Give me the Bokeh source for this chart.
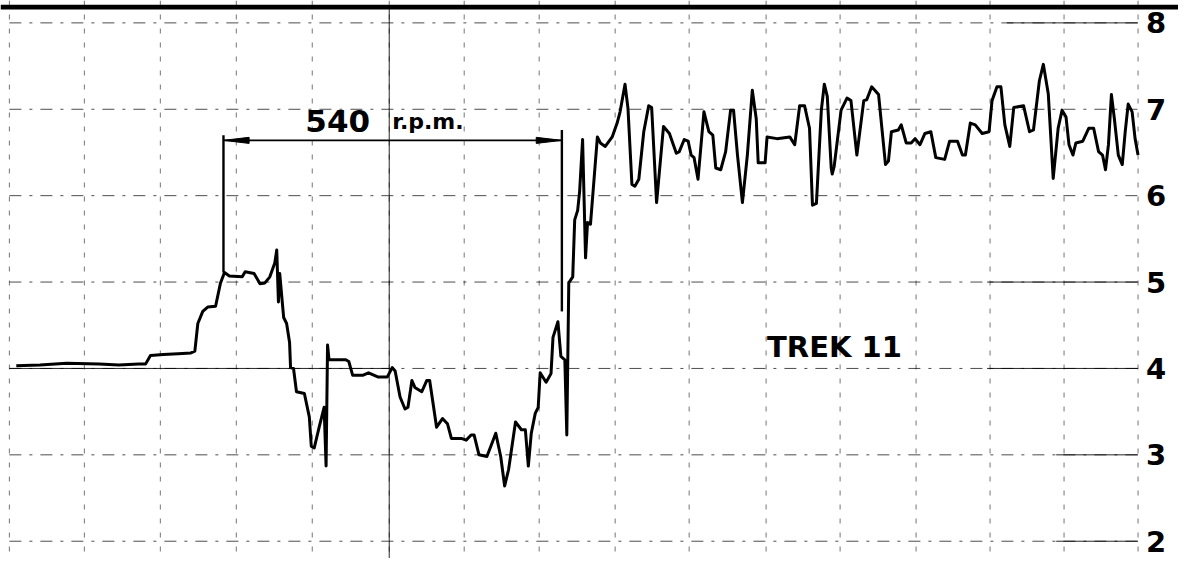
from bokeh.plotting import figure
from bokeh.models import Label, BoxAnnotation, Range1d, Span
from bokeh.core.properties import value
from bokeh.embed import file_html
from bokeh.resources import INLINE

# ---- data (chart position along the paper, speed value) ----
trace_pos = [16, 40, 67, 100, 120, 140, 147, 152, 165, 180, 193, 197, 200, 205, 210, 218,
             223, 227, 232, 245, 248, 257, 263, 268, 273, 278, 280, 281.7, 283, 287, 290,
             293, 294, 297, 300, 308, 313, 315, 318, 323, 328, 330, 331.5, 333, 350, 353,
             357, 367, 373, 383, 392, 397, 400, 405, 410, 413, 417, 420, 427, 432, 435,
             438, 442, 448, 453, 457, 467, 472, 477, 480, 485, 493, 497, 502, 507, 511,
             515, 522, 528, 532, 535, 538, 542, 545, 547, 553, 558, 560, 565, 568, 572,
             574, 576, 580, 582, 585, 587, 590, 593, 595, 598, 605, 608, 613, 620, 625,
             628, 633, 636, 640, 643, 647, 652, 657, 660, 665, 672, 678, 685, 688, 693,
             697, 700, 703, 707, 713, 718, 722, 725, 730, 735, 740, 743, 747, 752, 757,
             762, 766, 768, 775, 777, 787, 800, 805, 810, 815, 820, 823, 827, 832, 835,
             838, 842, 843, 845, 852, 858, 862, 868, 875, 878, 883, 890, 897, 900, 903,
             910, 913, 918, 923, 927, 932, 937, 943, 948, 957, 962, 970, 975, 978, 983,
             988, 995, 1002, 1005, 1010, 1014, 1018, 1023, 1027, 1037, 1043, 1047, 1053,
             1057, 1062, 1067, 1072, 1076, 1080, 1083, 1087, 1090, 1097, 1103, 1108, 1113,
             1117, 1120, 1123, 1126, 1129, 1133, 1137, 1140, 1143, 1147, 1150, 1153]
trace_val = [4.03, 4.04, 4.06, 4.05, 4.04, 4.05, 4.05, 4.15, 4.16, 4.17, 4.18, 4.20, 4.52,
             4.66, 4.71, 4.72, 4.99, 5.11, 5.07, 5.06, 5.12, 5.10, 4.98, 4.99, 5.06, 5.22,
             5.37, 4.77, 5.10, 4.59, 4.52, 4.30, 4.01, 4.00, 3.73, 3.71, 3.44, 3.10, 3.08,
             3.32, 3.55, 2.87, 4.27, 4.10, 4.10, 4.08, 3.92, 3.92, 3.95, 3.90, 3.90, 4.01,
             3.97, 3.67, 3.53, 3.55, 3.86, 3.78, 3.73, 3.86, 3.86, 3.63, 3.32, 3.42, 3.36,
             3.19, 3.19, 3.17, 3.23, 3.23, 3.00, 2.98, 3.10, 3.25, 2.98, 2.64, 2.83, 3.38,
             3.29, 3.29, 2.87, 3.25, 3.48, 3.55, 3.95, 3.84, 3.94, 4.36, 4.54, 4.14, 4.10,
             3.23, 4.99, 5.06, 5.72, 5.83, 6.05, 6.65, 5.28, 5.69, 5.67, 6.68, 6.61, 6.57,
             6.68, 6.84, 6.97, 7.29, 7.01, 6.13, 6.11, 6.19, 6.74, 7.04, 7.02, 5.92, 6.80,
             6.72, 6.49, 6.51, 6.65, 6.63, 6.47, 6.44, 6.19, 6.97, 6.74, 6.70, 6.32, 6.30,
             6.51, 6.99, 6.99, 6.47, 5.92, 6.47, 7.22, 6.89, 6.38, 6.38, 6.68, 6.66, 6.68,
             6.59, 7.04, 7.04, 6.78, 5.89, 5.91, 6.99, 7.29, 7.15, 6.32, 6.25, 6.34, 6.99,
             7.13, 7.10, 6.47, 7.10, 7.11, 7.26, 7.17, 6.36, 6.40, 6.74, 6.76, 6.82, 6.61,
             6.61, 6.66, 6.59, 6.72, 6.74, 6.44, 6.42, 6.63, 6.63, 6.47, 6.47, 6.84, 6.82,
             6.72, 6.74, 7.10, 7.26, 7.26, 6.82, 6.57, 7.02, 7.04, 6.74, 6.76, 7.33, 7.52,
             7.18, 6.20, 6.78, 6.99, 6.91, 6.59, 6.47, 6.61, 6.63, 6.78, 6.78, 6.51, 6.47,
             6.30, 6.59, 7.17, 6.89, 6.47, 6.36, 6.74, 7.06, 6.97, 6.66, 6.47]

# chart-paper grid
grid_pos = [9, 85, 162, 239, 316, 394, 470, 546, 623, 698, 776, 851, 928, 1003, 1078, 1153]
y_ticks = [2, 3, 4, 5, 6, 7, 8]
y_labels = ["2", "3", "4", "5", "6", "7", "8"]
label_pos = 1161

# 540 r.p.m. bracket
bracket_pos = [226, 569]
bracket_top = [6.70, 6.76]
bracket_bottom = [5.11, 4.66]
arrow_level = 6.64

FONT = "DejaVu Sans"
Y0, Y1 = 1.80, 8.259

p = figure(width=1178, height=558, output_backend="svg", toolbar_location=None,
           x_axis_location=None, y_axis_location=None,
           x_range=Range1d(0, 1194), y_range=Range1d(Y0, Y1),
           min_border_left=0, min_border_right=0, min_border_top=0, min_border_bottom=0)
p.outline_line_color = None
p.background_fill_color = "white"
p.border_fill_color = "white"
p.xgrid.visible = False
p.ygrid.visible = False

# printed chart grid
for gx in grid_pos:
    p.add_layout(Span(location=gx, dimension="height", line_color="black", line_alpha=0.55,
                      line_width=1, line_dash="5 9"))
p.segment(x0=[grid_pos[0]] * len(y_ticks), y0=y_ticks,
          x1=[grid_pos[-1]] * len(y_ticks), y1=y_ticks,
          line_color="black", line_alpha=0.7, line_width=1, line_dash="12 8 3 8")

# solid stretches of the printed grid
p.segment(x0=[9, 394, 1000, 1000, 1070, 1070, 1020], y0=[4, Y0, 4, 5, 3, 2, 8],
          x1=[394, 394, 1153, 1153, 1153, 1153, 1153], y1=[4, 8.2, 4, 5, 3, 2, 8],
          line_color="black", line_width=1, line_alpha=0.85)

# scale labels on the right edge of the paper
p.text(x=[label_pos] * len(y_ticks), y=y_ticks, text=y_labels,
       text_font=value(FONT), text_font_style="bold", text_font_size="29px",
       text_color="black", text_align="left", text_baseline="middle")

# top heavy rule
p.add_layout(BoxAnnotation(bottom=8.155, top=8.21,
                           fill_color="black", fill_alpha=1, line_color=None))

# trace
p.line(trace_pos, trace_val, line_color="black", line_width=3, line_join="round")

# bracket
p.segment(x0=bracket_pos, y0=bracket_bottom, x1=bracket_pos, y1=bracket_top,
          line_color="black", line_width=2.4)
p.segment(x0=[bracket_pos[0]], y0=[arrow_level], x1=[bracket_pos[1]], y1=[arrow_level],
          line_color="black", line_width=1.6)
head_len = 26
head_w = 0.035
xl, xr = bracket_pos
p.patches(xs=[[xl, xl + head_len, xl + head_len], [xr, xr - head_len, xr - head_len]],
          ys=[[arrow_level, arrow_level + head_w, arrow_level - head_w],
              [arrow_level, arrow_level + head_w, arrow_level - head_w]],
          fill_color="black", line_color="black", line_width=1)

# texts
p.add_layout(Label(x=309, y=6.86, text="540", text_font=FONT, text_font_size="31px",
                   text_font_style="bold", text_color="black", text_baseline="alphabetic"))
p.add_layout(Label(x=397, y=6.86, text="r.p.m.", text_font=FONT, text_font_size="22px",
                   text_font_style="bold", text_color="black", text_baseline="alphabetic"))
p.add_layout(Label(x=777, y=4.25, text="TREK 11", text_font=FONT, text_font_size="29px",
                   text_font_style="bold", text_color="black", text_baseline="alphabetic"))

open("out.html", "w").write(file_html(p, INLINE))
